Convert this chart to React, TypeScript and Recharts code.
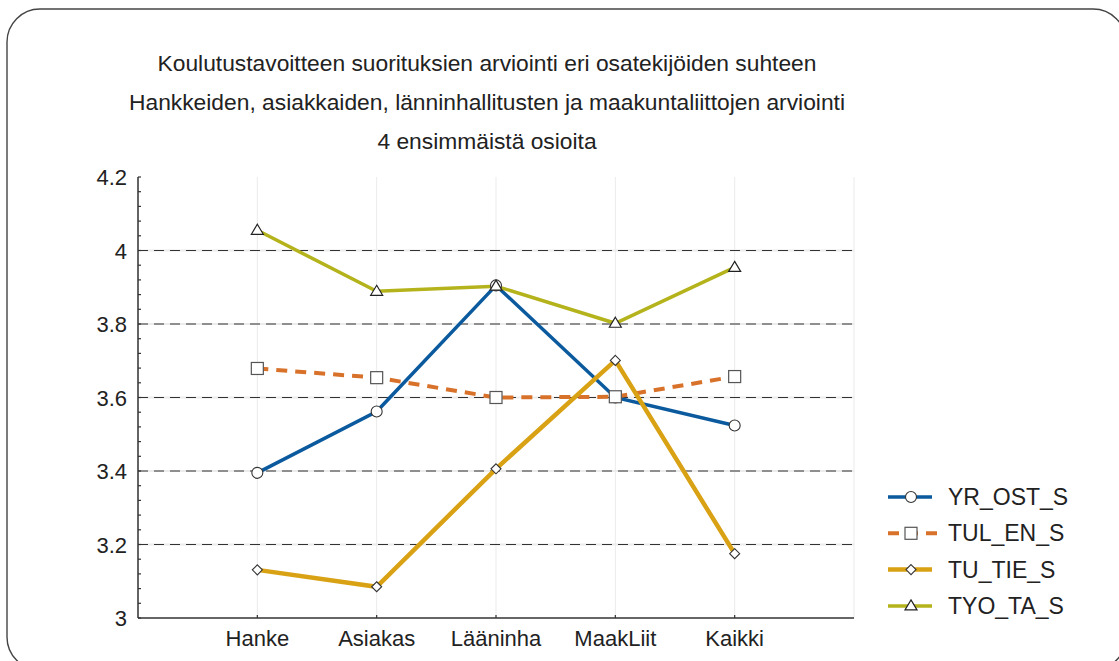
import React from 'react';
import { LineChart, Line, XAxis, YAxis, CartesianGrid, ReferenceLine, Legend } from 'recharts';

const categories = ['Hanke', 'Asiakas', 'Lääninha', 'MaakLiit', 'Kaikki'];
const yrOstS = [3.395, 3.562, 3.905, 3.6, 3.524];
const tulEnS = [3.679, 3.654, 3.6, 3.602, 3.657];
const tuTieS = [3.131, 3.085, 3.406, 3.701, 3.175];
const tyoTaS = [4.055, 3.889, 3.903, 3.802, 3.954];
const yTicks = [3, 3.2, 3.4, 3.6, 3.8, 4, 4.2];
const gridValues = [3.2, 3.4, 3.6, 3.8, 4];
const titleLines = [
  'Koulutustavoitteen suorituksien arviointi eri osatekijöiden suhteen',
  'Hankkeiden, asiakkaiden, länninhallitusten ja maakuntaliittojen arviointi',
  '4 ensimmäistä osioita',
];

const FONT = '"Liberation Sans", Arial, Helvetica, sans-serif';

const series = [
  { key: 'YR_OST_S', color: '#0b5a9e', width: 3.5, dash: undefined, marker: 'circle' },
  { key: 'TUL_EN_S', color: '#d8722a', width: 4, dash: '11 8', marker: 'square' },
  { key: 'TU_TIE_S', color: '#d9a114', width: 4.5, dash: undefined, marker: 'diamond' },
  { key: 'TYO_TA_S', color: '#b5b31c', width: 3.5, dash: undefined, marker: 'triangle' },
];

const data = categories.map((name, i) => ({
  pos: i + 1,
  name,
  YR_OST_S: yrOstS[i],
  TUL_EN_S: tulEnS[i],
  TU_TIE_S: tuTieS[i],
  TYO_TA_S: tyoTaS[i],
}));

// minor ticks: 5 steps between each labelled tick
const allYTicks: number[] = [];
yTicks.forEach((t, i) => {
  if (i === yTicks.length - 1) { allYTicks.push(t); return; }
  const step = (yTicks[i + 1] - t) / 5;
  for (let k = 0; k < 5; k++) allYTicks.push(t + k * step);
});

const isMajor = (v: number) => yTicks.some(t => Math.abs(t - v) < 1e-6);

const Marker = ({ cx, cy, shape }: any) => {
  if (cx == null || cy == null) return null;
  if (shape === 'circle')
    return <circle cx={cx} cy={cy} r={5.5} fill="#fff" stroke="#333" strokeWidth={1.1} />;
  if (shape === 'square')
    return <rect x={cx - 6} y={cy - 6} width={12} height={12} fill="#fff" stroke="#555" strokeWidth={1.2} />;
  if (shape === 'diamond')
    return <polygon points={`${cx},${cy - 5} ${cx + 5},${cy} ${cx},${cy + 5} ${cx - 5},${cy}`} fill="#fff" stroke="#333" strokeWidth={1.1} />;
  return <polygon points={`${cx},${cy - 6} ${cx + 6},${cy + 4} ${cx - 6},${cy + 4}`} fill="#fff" stroke="#222" strokeWidth={1.2} />;
};

const LeftTick = ({ x, y, payload }: any) => (
  <g>
    <line x1={x} x2={x + 3} y1={y} y2={y} stroke="#333" strokeWidth={1.2} />
    {isMajor(payload.value) && (
      <text x={x - 11} y={y} dy={8} textAnchor="end" fontSize={22} fontFamily={FONT} fill="#222">
        {String(Math.round(payload.value * 10) / 10)}
      </text>
    )}
  </g>
);

const RightTick = ({ x, y }: any) => (
  <line x1={x} x2={x - 3} y1={y} y2={y} stroke="#333" strokeWidth={1.2} />
);

const BottomTick = ({ x, y, payload }: any) => (
  <g>
    <line x1={x} x2={x} y1={y} y2={y - 3} stroke="#333" strokeWidth={1.2} />
    <text x={x} y={y + 28} textAnchor="middle" fontSize={22} fontFamily={FONT} fill="#222">
      {categories[payload.value - 1]}
    </text>
  </g>
);

const renderLegend = () => (
  <svg width={240} height={150}>
    {series.map((s, i) => {
      const cy = 19 + i * 36.3;
      return (
        <g key={s.key}>
          <line x1={8} x2={s.dash ? 57 : 52} y1={cy} y2={cy} stroke={s.color} strokeWidth={s.width} strokeDasharray={s.dash} />
          <Marker cx={31} cy={cy} shape={s.marker} />
          <text x={68} y={cy} dy={8} fontSize={23} fontFamily={FONT} fill="#222">{s.key}</text>
        </g>
      );
    })}
  </svg>
);

export default function App() {
  return (
    <div style={{ position: 'absolute', left: 0, top: 0, width: 1119, height: 661, overflow: 'hidden', background: '#fff' }}>
      <svg width={1119} height={661} style={{ position: 'absolute', left: 0, top: 0 }}>
        <rect x={7} y={9} width={1119} height={661} rx={33} ry={33} fill="none" stroke="#444" strokeWidth={1.4} />
        {titleLines.map((t, i) => (
          <text key={i} x={487} y={71 + i * 39} textAnchor="middle" fontSize={22.8} fontFamily={FONT} fill="#222">{t}</text>
        ))}
      </svg>
      <div style={{ position: 'absolute', left: 0, top: 0 }}>
        <LineChart width={1119} height={661} data={data} margin={{ top: 177, right: 265, bottom: 13, left: 0 }}>
          <CartesianGrid xAxisId="bottom" yAxisId="left" horizontal={false} stroke="#ebebeb" />
          <XAxis xAxisId="bottom" dataKey="pos" type="number" domain={[0, 6]} ticks={[1, 2, 3, 4, 5]} interval={0}
            tick={<BottomTick />} tickLine={false} tickSize={0} tickMargin={0} height={30}
            axisLine={{ stroke: '#333', strokeWidth: 1.5 }} />
          <XAxis xAxisId="top" orientation="top" dataKey="pos" type="number" domain={[0, 6]} tick={false} tickLine={false}
            height={0} axisLine={{ stroke: '#333', strokeWidth: 1.5 }} />
          <YAxis yAxisId="left" type="number" domain={[3, 4.2]} ticks={allYTicks} interval={0} width={138}
            tick={<LeftTick />} tickLine={false} tickSize={0} tickMargin={0} allowDataOverflow
            axisLine={{ stroke: '#333', strokeWidth: 1.5 }} />
          <YAxis yAxisId="right" orientation="right" type="number" domain={[3, 4.2]} ticks={allYTicks} interval={0} width={0}
            tick={<RightTick />} tickLine={false} tickSize={0} tickMargin={0} allowDataOverflow
            axisLine={{ stroke: '#333', strokeWidth: 1.5 }} />
          {gridValues.map(v => (
            <ReferenceLine key={`g${v}`} xAxisId="bottom" yAxisId="left" y={v} stroke="#ececec" strokeWidth={2} />
          ))}
          {gridValues.map(v => (
            <ReferenceLine key={`d${v}`} xAxisId="bottom" yAxisId="left" y={v} stroke="#333" strokeWidth={1} strokeDasharray="10 6" />
          ))}
          {series.map(s => (
            <Line key={s.key} xAxisId="bottom" yAxisId="left" type="linear" dataKey={s.key} name={s.key}
              stroke={s.color} strokeWidth={s.width} strokeDasharray={s.dash} isAnimationActive={false}
              dot={(p: any) => <Marker key={`${s.key}-${p.index}`} cx={p.cx} cy={p.cy} shape={s.marker} />}
              activeDot={false} />
          ))}
          <Legend layout="vertical" align="center" verticalAlign="middle" content={renderLegend}
            wrapperStyle={{ left: 880, top: 478, width: 240, height: 150 }} />
        </LineChart>
      </div>
    </div>
  );
}
